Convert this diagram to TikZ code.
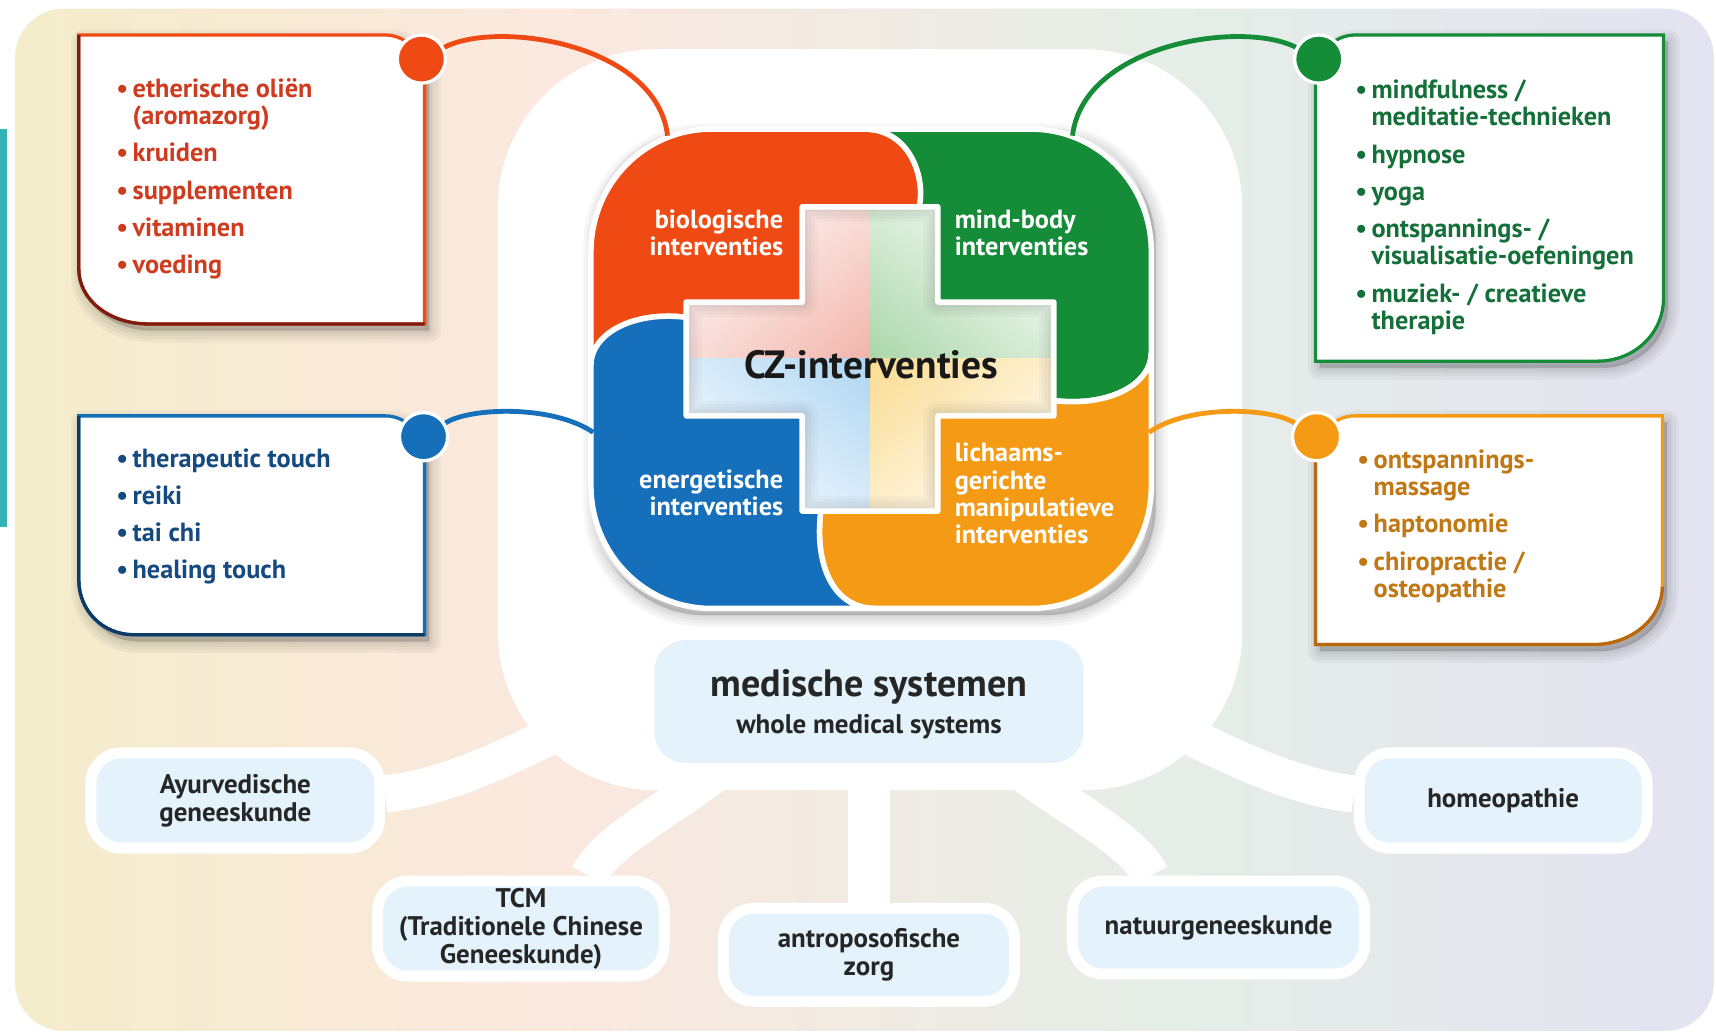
\documentclass[tikz,border=0pt]{standalone}
\usepackage{fontspec}
\setmainfont{PT Sans}
\usetikzlibrary{calc,shadings}
\definecolor{bgA}{HTML}{F4EDCB}
\definecolor{bgB}{HTML}{FBE8DF}
\definecolor{bgC}{HTML}{E5EEE7}
\definecolor{bgD}{HTML}{E4E3F1}
\definecolor{tealbar}{HTML}{35B3B4}
\definecolor{cRed}{HTML}{F04A14}
\definecolor{cGreen}{HTML}{148C38}
\definecolor{cBlue}{HTML}{166FBA}
\definecolor{cOrange}{HTML}{F59A14}
\definecolor{tRed}{HTML}{CF3B1E}
\definecolor{tGreen}{HTML}{146F38}
\definecolor{tBlue}{HTML}{144A80}
\definecolor{tOrange}{HTML}{C07815}
\definecolor{dRed}{HTML}{7E1C12}
\definecolor{dBlue}{HTML}{0E3A66}
\definecolor{dOrange}{HTML}{B8690F}
\definecolor{lblue}{HTML}{E3F2FB}
\definecolor{qRed}{HTML}{F2B4AA}
\definecolor{qGreen}{HTML}{AAD6AA}
\definecolor{qBlue}{HTML}{ADD5F2}
\definecolor{qYellow}{HTML}{FADC90}
\pgfdeclarehorizontalshading{bgshade}{100bp}{color(0bp)=(bgA); color(25bp)=(bgA); color(41bp)=(bgB); color(59bp)=(bgC); color(75bp)=(bgD); color(100bp)=(bgD)}
\pgfdeclarelayer{bg}
\pgfdeclarelayer{bands}
\pgfdeclarelayer{mid}
\pgfsetlayers{bg,bands,mid,main}
\begin{document}
\begin{tikzpicture}[x=0.5pt,y=-0.5pt,
  listtext/.style={font=\bfseries\fontsize{12}{12.5}\selectfont, inner sep=0pt, anchor=base west},
  piecetext/.style={font=\bfseries\fontsize{12}{12.5}\selectfont, text=white, inner sep=0pt},
  leaf/.style={draw=white, line width=5pt, fill=lblue, rounded corners=14pt, font=\bfseries\fontsize{12.3}{12.75}\selectfont, text=black!85, align=center, inner sep=0pt},
  dot/.style={circle, draw=white, line width=1.5pt, minimum size=22pt, inner sep=0pt},
  con/.style={line width=2.2pt},
  band/.style={draw=white, line width=17pt},
  boxline/.style={line width=1.5pt, fill=white},
  piece/.style={draw=white, line width=2.5pt, line join=round},
  shl/.style={preaction={draw=black, draw opacity=0.035, fill=black, fill opacity=0.035, line width=#1, line join=round, transform canvas={xshift=2pt,yshift=-3pt}}},
  shadowy/.style={shl=11pt, shl=8pt, shl=5pt, shl=2.5pt, shl=0.5pt},
  inset/.style={draw=black, draw opacity=0.025, line width=#1, line join=round}
]
\useasboundingbox (0,0) rectangle (1568,945);

% ---------- background ----------
\begin{pgfonlayer}{bg}
\fill[white] (0,0) rectangle (1568,945);
\shade[shading=bgshade, rounded corners=22pt] (14,8) rectangle (1566,942);
\fill[tealbar] (0,118) rectangle (6,482);
\fill[white, rounded corners=72pt] (455,45) rectangle (1135,722);
\end{pgfonlayer}

% ---------- medical systems ----------
\node[fill=lblue, rounded corners=14pt, minimum width=196pt, minimum height=56pt, inner sep=0pt] (ms) at (794,641) {};
\node[font=\bfseries\fontsize{17.4}{18}\selectfont, text=black!85] (mst) at (794,628) {medische systemen};
\node[font=\bfseries\fontsize{12.3}{12}\selectfont, text=black!85] (mss) at (794,664) {whole medical systems};

\node[leaf, minimum width=132pt, minimum height=43.5pt] (ayur) at (215,731.5) {Ayurvedische\\geneeskunde};
\node[leaf, minimum width=131pt, minimum height=43.5pt] (tcm) at (476,848.5) {TCM\\(Traditionele Chinese\\Geneeskunde)};
\node[leaf, minimum width=133pt, minimum height=42.5pt] (antro) at (794,872.5) {antroposofische\\zorg};
\node[leaf, minimum width=133.5pt, minimum height=42.5pt] (nat) at (1113.5,847.5) {natuurgeneeskunde};
\node[leaf, minimum width=131.5pt, minimum height=43.5pt] (homeo) at (1373.5,731.5) {homeopathie};

\begin{pgfonlayer}{bands}
\draw[band] (ms.west) .. controls (540,640) and (450,715) .. ([yshift=3pt]ayur.east);
\draw[band] ([xshift=-65pt]ms.south) .. controls (630,730) and (555,765) .. ([xshift=31pt]tcm.north);
\draw[band, line width=19pt] (ms.south) -- (antro.north);
\draw[band] ([xshift=65pt]ms.south) .. controls (960,730) and (1035,765) .. ([xshift=-31pt]nat.north);
\draw[band] (ms.east) .. controls (1050,640) and (1140,715) .. ([yshift=3pt]homeo.west);
\end{pgfonlayer}

% ---------- boxes ----------
\begin{pgfonlayer}{mid}
\path[boxline, draw=cRed, shadowy] (72,32) -- (352,32) .. controls (372,32) and (388,50) .. (388,70) -- (388,296) -- (135,296) .. controls (100,296) and (72,274) .. (72,246) -- cycle;
\draw[line width=1.5pt, dRed] (72,32) -- (72,246) .. controls (72,274) and (100,296) .. (135,296) -- (388,296);

\path[boxline, draw=cBlue, shadowy] (72,380) -- (352,380) .. controls (372,380) and (388,398) .. (388,418) -- (388,580) -- (122,580) .. controls (94,580) and (72,558) .. (72,530) -- cycle;
\draw[line width=1.5pt, dBlue] (72,380) -- (72,530) .. controls (72,558) and (94,580) .. (122,580) -- (388,580);

\path[boxline, draw=cGreen, shadowy] (1520,32) -- (1238,32) .. controls (1218,32) and (1202,50) .. (1202,70) -- (1202,330) -- (1460,330) .. controls (1493,330) and (1520,305) .. (1520,273) -- cycle;

\path[boxline, draw=cOrange, shadowy] (1519,380) -- (1238,380) .. controls (1218,380) and (1202,398) .. (1202,418) -- (1202,589) -- (1456,589) .. controls (1491,589) and (1519,565) .. (1519,536) -- cycle;
\draw[line width=1.5pt, dOrange] (1202,418) -- (1202,589) -- (1456,589) .. controls (1491,589) and (1519,565) .. (1519,536);

% ---------- central cross ----------
\fill[gray!20, shadowy, rounded corners=50pt] (540,118) rectangle (1052,556);
\begin{scope}
\clip (733,189) -- (857,189) -- (857,276) -- (963,276) -- (963,380) -- (857,380) -- (857,467) -- (733,467) -- (733,380) -- (627,380) -- (627,276) -- (733,276) -- cycle;
\shade[upper left=white, upper right=qRed!45!white, lower left=qRed!45!white, lower right=qRed] (627,189) rectangle (795,328);
\shade[upper right=white, upper left=qGreen!45!white, lower right=qGreen!45!white, lower left=qGreen] (795,189) rectangle (963,328);
\shade[lower left=white, lower right=qBlue!45!white, upper left=qBlue!45!white, upper right=qBlue] (627,328) rectangle (795,467);
\shade[lower right=white, lower left=qYellow!45!white, upper right=qYellow!45!white, upper left=qYellow] (795,328) rectangle (963,467);
\foreach \w in {14pt,11pt,8pt,5pt}
  \draw[inset=\w] (733,189) -- (857,189) -- (857,276) -- (963,276) -- (963,380) -- (857,380) -- (857,467) -- (733,467) -- (733,380) -- (627,380) -- (627,276) -- (733,276) -- cycle;
\end{scope}
\path[piece, fill=cRed] (540,334) -- (540,230) .. controls (540,168) and (589,118) .. (650,118) -- (790,118) .. controls (830,118) and (846,160) .. (840,189) -- (733,189) -- (733,276) -- (627,276) -- (627,290) .. controls (580,284) and (540,304) .. (540,334) -- cycle;
\path[piece, fill=cGreen] (790,118) -- (942,118) .. controls (1003,118) and (1052,168) .. (1052,230) -- (1052,322) .. controls (1052,352) and (1012,372) .. (963,366) -- (963,276) -- (857,276) -- (857,189) -- (840,189) .. controls (846,160) and (830,118) .. (790,118) -- cycle;
\path[piece, fill=cOrange] (1052,322) -- (1052,444) .. controls (1052,506) and (1003,556) .. (942,556) -- (800,556) .. controls (760,556) and (744,514) .. (750,467) -- (857,467) -- (857,380) -- (963,380) -- (963,366) .. controls (1012,372) and (1052,352) .. (1052,322) -- cycle;
\path[piece, fill=cBlue] (800,556) -- (650,556) .. controls (589,556) and (540,506) .. (540,444) -- (540,334) .. controls (540,304) and (580,284) .. (627,290) -- (627,380) -- (733,380) -- (733,467) -- (750,467) .. controls (744,514) and (760,556) .. (800,556) -- cycle;
\end{pgfonlayer}

% ---------- labels ----------
\node[piecetext, align=right, anchor=east] (bio) at (716,212.5) {biologische\\interventies};
\node[piecetext, align=left, anchor=west] (mb) at (872,212.5) {mind-body\\interventies};
\node[piecetext, align=right, anchor=east] (en) at (716,450.5) {energetische\\interventies};
\node[piecetext, align=left, anchor=west] (li) at (872,451) {lichaams-\\gerichte\\manipulatieve\\interventies};
\node[font=\bfseries\fontsize{18}{20}\selectfont, text=black!90, inner sep=0pt] (cz) at (796,333) {CZ-interventies};

% ---------- lists ----------
\node[listtext, text=tRed] (rl) at (106,89) {\begin{tabular}[t]{@{}l@{\hspace{2pt}}l@{}}\textbullet & etherische oliën\\ & (aromazorg)\\[4.5pt] \textbullet & kruiden\\[4.5pt] \textbullet & supplementen\\[4.5pt] \textbullet & vitaminen\\[4.5pt] \textbullet & voeding\end{tabular}};
\node[listtext, text=tGreen] (gl) at (1238,90) {\begin{tabular}[t]{@{}l@{\hspace{2pt}}l@{}}\textbullet & mindfulness /\\ & meditatie-technieken\\[4.5pt] \textbullet & hypnose\\[4.5pt] \textbullet & yoga\\[4.5pt] \textbullet & ontspannings- /\\ & visualisatie-oefeningen\\[4.5pt] \textbullet & muziek- / creatieve\\ & therapie\end{tabular}};
\node[listtext, text=tBlue] (bl) at (106,427) {\begin{tabular}[t]{@{}l@{\hspace{2pt}}l@{}}\textbullet & therapeutic touch\\[4.5pt] \textbullet & reiki\\[4.5pt] \textbullet & tai chi\\[4.5pt] \textbullet & healing touch\end{tabular}};
\node[listtext, text=tOrange] (ol) at (1240,428) {\begin{tabular}[t]{@{}l@{\hspace{2pt}}l@{}}\textbullet & ontspannings-\\ & massage\\[4.5pt] \textbullet & haptonomie\\[4.5pt] \textbullet & chiropractie /\\ & osteopathie\end{tabular}};

% ---------- dots and connectors ----------
\node[dot, fill=cRed] (rdot) at (385,54) {};
\node[dot, fill=cGreen] (gdot) at (1205,54) {};
\node[dot, fill=cBlue] (bdot) at (387,399) {};
\node[dot, fill=cOrange] (odot) at (1203,399) {};
\coordinate (bioC) at (610,124);
\coordinate (mbC) at (980,124);
\coordinate (enC) at (542,395);
\coordinate (liC) at (1050,395);
\begin{pgfonlayer}{mid}
\draw[con, cRed] (rdot) .. controls (455,18) and (600,40) .. (bioC);
\draw[con, cGreen] (gdot) .. controls (1135,18) and (990,40) .. (mbC);
\draw[con, cBlue] (bdot) .. controls (430,372) and (505,370) .. (enC);
\draw[con, cOrange] (odot) .. controls (1160,372) and (1085,370) .. (liC);
\end{pgfonlayer}
\end{tikzpicture}
\end{document}
